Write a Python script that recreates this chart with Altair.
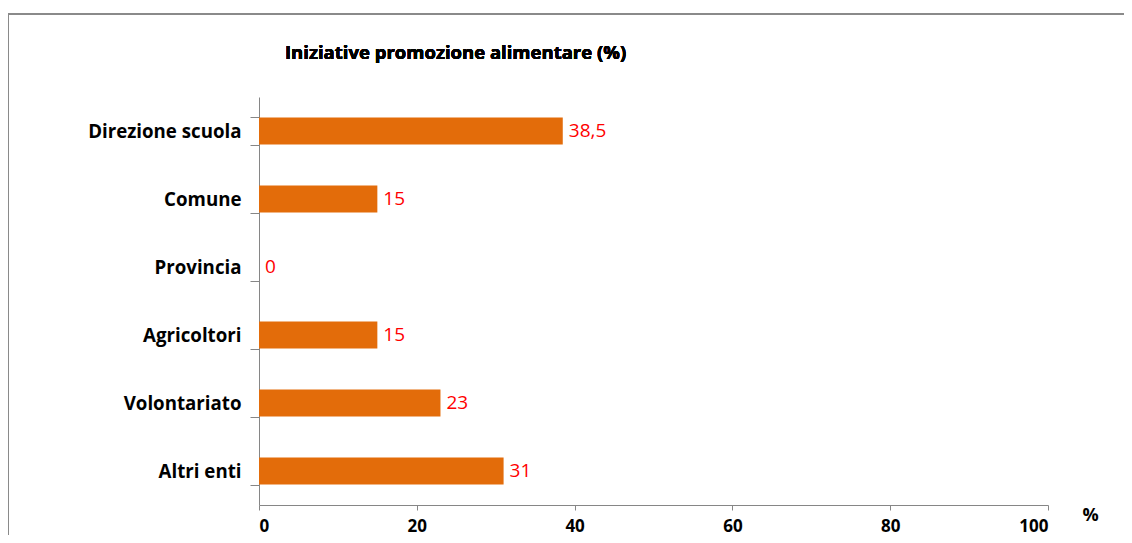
import altair as alt
import pandas as pd

categories = ["Direzione scuola", "Comune", "Provincia", "Agricoltori", "Volontariato", "Altri enti"]
values = [38.5, 15, 0, 15, 23, 31]
labels = ["38,5", "15", "0", "15", "23", "31"]
x_ticks = [0, 20, 40, 60, 80, 100]
title_text = "Iniziative promozione alimentare (%)"
x_axis_title = "%"

df = pd.DataFrame({"cat": categories, "val": values, "lab": labels})

FONT = "Open Sans"
AXIS_COLOR = "#868686"

y_enc = alt.Y(
    "cat:N",
    sort=categories,
    scale=alt.Scale(paddingInner=0.6, paddingOuter=0.3),
    axis=alt.Axis(
        title=None,
        tickBand="extent",
        tickSize=9,
        tickColor=AXIS_COLOR,
        domainColor=AXIS_COLOR,
        labelFont=FONT,
        labelFontWeight="bold",
        labelFontSize=18.7,
        labelColor="#000000",
        labelPadding=9,
    ),
)

x_enc = alt.X(
    "val:Q",
    scale=alt.Scale(domain=[0, 100], nice=False),
    axis=alt.Axis(
        values=x_ticks,
        title=x_axis_title,
        titleX=831,
        titleY=15,
        titleAlign="center",
        titleBaseline="alphabetic",
        titleFont=FONT,
        titleFontSize=18,
        titleFontWeight="bold",
        titleColor="#000000",
        grid=False,
        tickSize=5,
        tickColor=AXIS_COLOR,
        domainColor=AXIS_COLOR,
        labelFont=FONT,
        labelFontWeight="bold",
        labelFontSize=17,
        labelColor="#000000",
        labelPadding=8,
    ),
)

bars = alt.Chart(df).mark_bar(color="#E36C0A").encode(x=x_enc, y=y_enc)

text = alt.Chart(df).mark_text(
    align="left", baseline="middle", dx=6, color="#FF0000", font=FONT, fontSize=19
).encode(x="val:Q", y=alt.Y("cat:N", sort=categories), text="lab:N")

frame = alt.Chart(df).mark_rect(
    fill=None, stroke="#8a8a8a", strokeWidth=2
).encode(
    x=alt.value(-251), x2=alt.value(900), y=alt.value(-83), y2=alt.value(700)
)

title = alt.Chart(df).mark_text(
    align="left", baseline="alphabetic", font=FONT, fontSize=18.5, fontWeight="bold", color="#000000"
).encode(x=alt.value(26), y=alt.value(-38), text=alt.value(title_text))

chart = (
    alt.layer(frame, bars, text, title)
    .properties(
        width=789,
        height=408,
        background="white",
        autosize=alt.AutoSizeParams(type="none"),
        padding={"left": 251, "top": 89, "right": 76, "bottom": 30},
    )
    .configure_view(stroke=None, strokeWidth=0)
)

chart.save("out.html", embed_options={"renderer": "svg", "actions": False})
